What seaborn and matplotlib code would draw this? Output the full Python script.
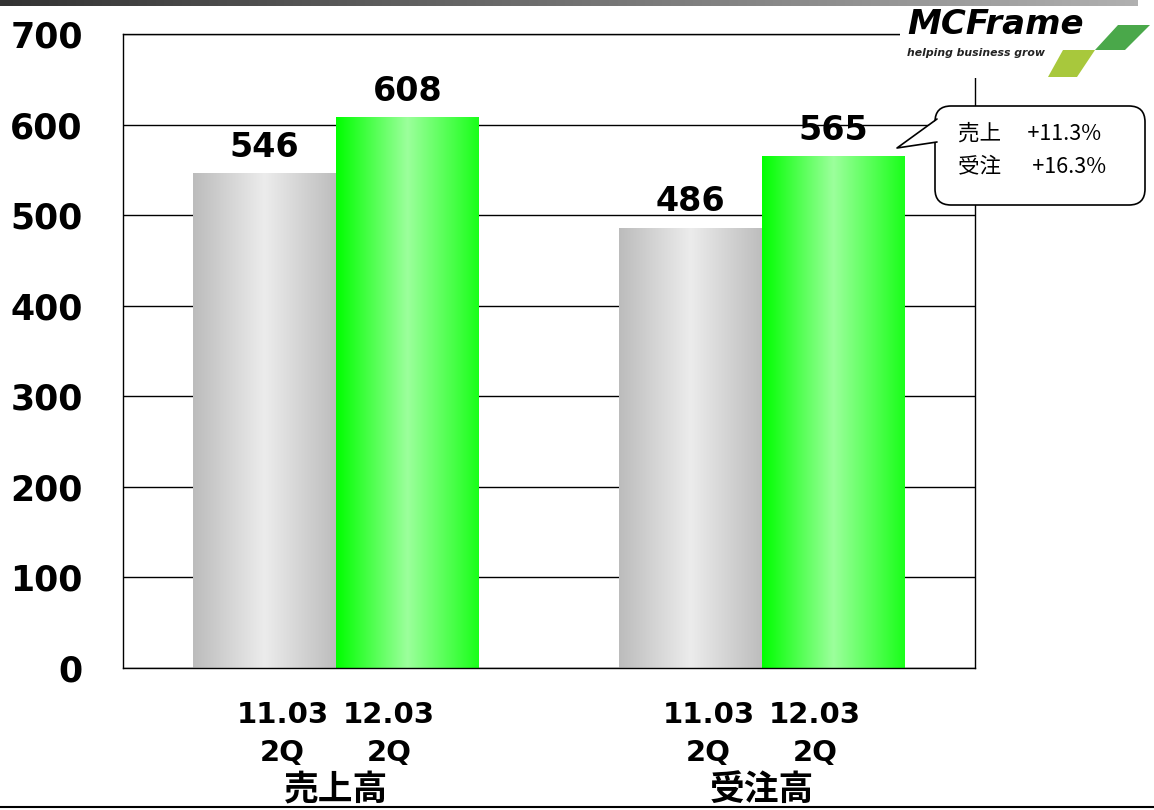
import numpy as np
import pandas as pd
import matplotlib
matplotlib.use("Agg")
import matplotlib.pyplot as plt
import seaborn as sns
from matplotlib.patches import Polygon, Rectangle, FancyBboxPatch
from matplotlib.lines import Line2D
from matplotlib.transforms import IdentityTransform, blended_transform_factory
from matplotlib.colors import LinearSegmentedColormap

# data
categories = ["売上高", "受注高"]
periods = ["11.03", "12.03"]
quarter = "2Q"
prev_values = [546, 486]
curr_values = [608, 565]
yticks = [0, 100, 200, 300, 400, 500, 600, 700]
callout_lines = ["売上　 +11.3%", "受注　  +16.3%"]

df = pd.DataFrame({
    "category": categories * 2,
    "period": [periods[0]] * 2 + [periods[1]] * 2,
    "value": prev_values + curr_values,
})

sns.set_theme(style="white")
plt.rcParams['font.family'] = ['DejaVu Sans', 'Noto Sans CJK JP']
plt.rcParams.update({'text.color': 'black', 'xtick.color': 'black',
                     'ytick.color': 'black', 'axes.labelcolor': 'black'})

W, H = 1154, 810
fig = plt.figure(figsize=(W / 100, H / 100), dpi=100)
ax = fig.add_axes([123 / W, 1 - 668 / H, (975 - 123) / W, (668 - 34) / H])

base_cols = ["#d6d6d6", "#55ff55"]
sns.barplot(data=df, x="category", y="value", hue="period", order=categories,
            hue_order=periods, palette=base_cols, width=0.67, gap=0,
            saturation=1, errorbar=None, legend=False, ax=ax)

gradients = {
    0: [(0.0, "#bcbcbc"), (0.5, "#ececec"), (1.0, "#bdbdbd")],
    1: [(0.0, "#00ff00"), (0.5, "#9cff9c"), (1.0, "#1aff1a")],
}
grad = np.linspace(0, 1, 256).reshape(1, -1)
for k, cont in enumerate(ax.containers):
    cmap = LinearSegmentedColormap.from_list(f"g{k}", gradients[k])
    for p in cont:
        p.set_edgecolor("none")
        x0, y0, w, h = p.get_x(), p.get_y(), p.get_width(), p.get_height()
        im = ax.imshow(grad, cmap=cmap, extent=[x0, x0 + w, y0, y0 + h],
                       aspect="auto", origin="lower", zorder=p.get_zorder() + 0.1)
        im.set_clip_path(p)
    ax.bar_label(cont, fmt="%d", padding=7, fontsize=24, fontweight="bold",
                 color="black", zorder=5)

ax.set_xlim(-0.5, 1.5)
ax.set_ylim(0, 700)
ax.set_yticks(yticks)
ax.set_yticklabels([str(v) for v in yticks], fontsize=25, fontweight="bold")
ax.tick_params(axis="y", length=0, pad=29)
ax.yaxis.grid(True, color="black", linewidth=1)
ax.set_axisbelow(True)
ax.set_xlabel("")
ax.set_ylabel("")
for s in ax.spines.values():
    s.set_visible(True)
    s.set_color("black")
    s.set_linewidth(1)

ax.set_xticks([0, 1])
ax.set_xticklabels(categories, fontsize=25, fontweight="bold",
                   family=["Noto Sans CJK JP"])
ax.tick_params(axis="x", which="major", length=0, pad=75)
ax.set_xticks([0.5], minor=True)
ax.tick_params(axis="x", which="minor", direction="in", length=10,
               color="black", width=1)

# period labels under each bar pair
tr = blended_transform_factory(ax.transData, ax.transAxes)
for i in range(len(categories)):
    for j, per in enumerate(periods):
        xc = i + (j - 0.5) * 0.25
        ax.annotate(per, xy=(xc, 0), xycoords=tr, xytext=(0, -47),
                    textcoords="offset pixels", ha="center", va="center",
                    fontsize=21, fontweight="bold", annotation_clip=False)
        ax.annotate(quarter, xy=(xc, 0), xycoords=tr, xytext=(0, -85),
                    textcoords="offset pixels", ha="center", va="center",
                    fontsize=21, fontweight="bold", annotation_clip=False)

px = IdentityTransform()

# top gradient strip
strip = fig.add_axes([0, 1 - 6 / H, 1138 / W, 6 / H])
strip.imshow(grad, cmap=LinearSegmentedColormap.from_list("s", ["#333333", "#b0b0b0"]),
             aspect="auto")
strip.axis("off")

# bottom rule
fig.add_artist(Line2D([0, 1], [1 - 807 / H, 1 - 807 / H], color="black",
                      linewidth=1.5, transform=fig.transFigure))

# logo
fig.add_artist(Rectangle((900, H - 78), 254, 70, facecolor="white",
                         edgecolor="none", transform=px, zorder=4))
fig.text(907, H - 34, "MCFrame", transform=px, fontsize=24.5, fontweight="bold",
         fontstyle="italic", family="DejaVu Sans", va="baseline", zorder=5)
fig.text(907, H - 56, "helping business grow", transform=px, fontsize=7.8,
         fontweight="bold", fontstyle="italic", family="DejaVu Sans",
         color="#222222", va="baseline", zorder=5)
fig.add_artist(Polygon([(1118, H - 25), (1150, H - 25), (1125, H - 50), (1095, H - 50)],
                       closed=True, facecolor="#4aa84a", edgecolor="none",
                       transform=px, zorder=5))
fig.add_artist(Polygon([(1063, H - 50), (1095, H - 50), (1077, H - 77), (1048, H - 77)],
                       closed=True, facecolor="#a8c83c", edgecolor="none",
                       transform=px, zorder=5))

# callout
fig.add_artist(FancyBboxPatch((935, H - 205), 210, 99,
                              boxstyle="round,pad=0,rounding_size=16",
                              facecolor="white", edgecolor="black", linewidth=1.2,
                              transform=px, zorder=6))
fig.add_artist(Polygon([(938, H - 119), (897, H - 148), (938, H - 142)], closed=True,
                       facecolor="white", edgecolor="none", transform=px, zorder=7))
fig.add_artist(Line2D([937, 897, 937], [H - 119, H - 148, H - 142], color="black",
                      linewidth=1.2, transform=px, zorder=8))
for k, line in enumerate(callout_lines):
    fig.text(958, H - 134 - 32 * k, line, transform=px, fontsize=15.5,
             family=["Noto Sans CJK JP"], va="center", ha="left", zorder=9)

fig.savefig("out.png", dpi=100)
